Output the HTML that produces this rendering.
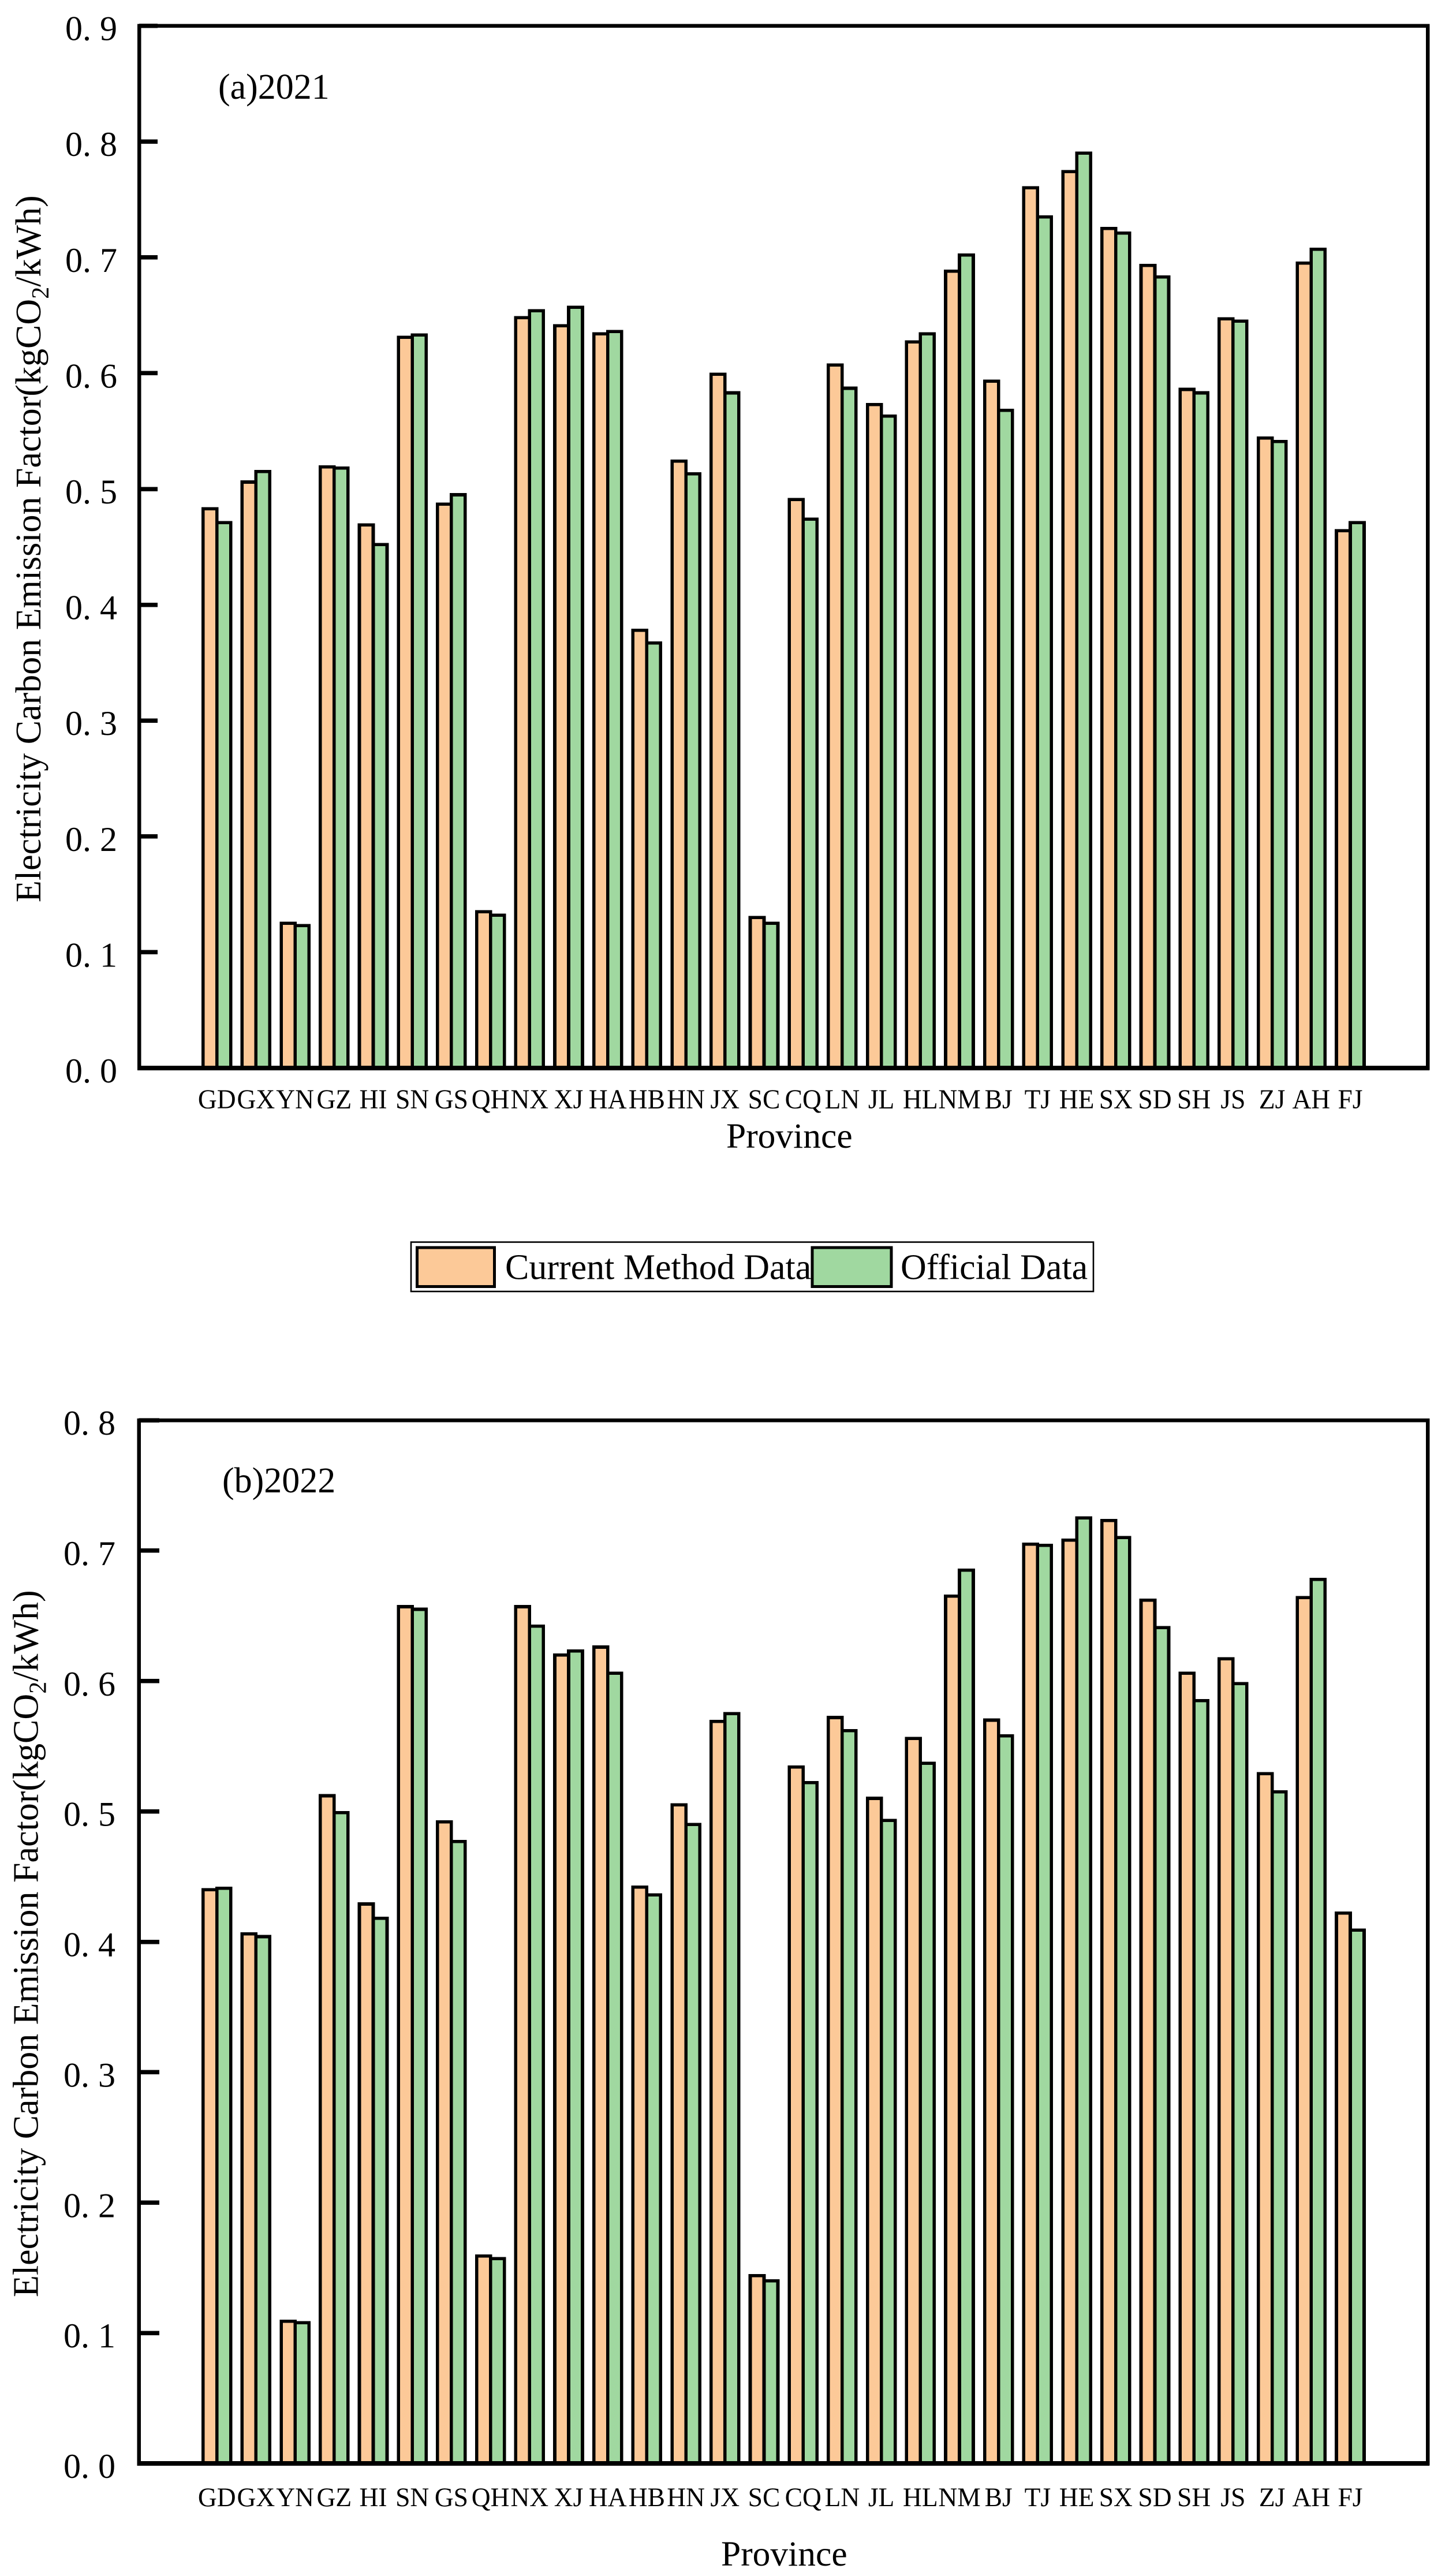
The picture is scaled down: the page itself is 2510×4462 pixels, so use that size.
<!DOCTYPE html>
<html lang="en">
<head>
<meta charset="utf-8">
<title>Electricity Carbon Emission Factor by Province</title>
<style>
html,body{margin:0;padding:0;background:#fff;}
svg{display:block;}
text{font-family:"Liberation Serif","Times New Roman",serif;fill:#000;}
</style>
</head>
<body>
<svg id="figure" xmlns="http://www.w3.org/2000/svg" width="2510" height="4462" viewBox="0 0 2510 4462">
  <rect x="0" y="0" width="2510" height="4462" fill="#ffffff"/>
  <g>
    <rect x="712" y="2151.5" width="1182" height="85.5" fill="#fff" stroke="#000" stroke-width="2.6"/>
    <rect x="722.5" y="2161" width="134" height="67.5" fill="#FCC998" stroke="#000" stroke-width="5" shape-rendering="crispEdges"/>
    <text x="875" y="2215.5" font-size="62">Current Method Data</text>
    <rect x="1407" y="2161" width="137" height="67.5" fill="#A0D8A0" stroke="#000" stroke-width="5" shape-rendering="crispEdges"/>
    <text x="1560" y="2215.5" font-size="62">Official Data</text>
  </g>
</svg>
<script>
const categories = ["GD","GX","YN","GZ","HI","SN","GS","QH","NX","XJ","HA","HB","HN","JX","SC","CQ","LN","JL","HL","NM","BJ","TJ","HE","SX","SD","SH","JS","ZJ","AH","FJ"];
const current2021 = [0.483,0.506,0.125,0.519,0.469,0.631,0.487,0.135,0.648,0.641,0.634,0.378,0.524,0.599,0.130,0.491,0.607,0.573,0.627,0.688,0.593,0.760,0.774,0.725,0.693,0.586,0.647,0.544,0.695,0.464];
const official2021 = [0.471,0.515,0.123,0.518,0.452,0.633,0.495,0.132,0.654,0.657,0.636,0.367,0.513,0.583,0.125,0.474,0.587,0.563,0.634,0.702,0.568,0.735,0.790,0.721,0.683,0.583,0.645,0.541,0.707,0.471];
const current2022 = [0.440,0.406,0.109,0.512,0.429,0.657,0.492,0.159,0.657,0.620,0.626,0.442,0.505,0.569,0.144,0.534,0.572,0.510,0.556,0.665,0.570,0.705,0.708,0.723,0.662,0.606,0.617,0.529,0.664,0.422];
const official2022 = [0.441,0.404,0.108,0.499,0.418,0.655,0.477,0.157,0.642,0.623,0.606,0.436,0.490,0.575,0.140,0.522,0.562,0.493,0.537,0.685,0.558,0.704,0.725,0.710,0.641,0.585,0.598,0.515,0.678,0.409];
const yTicks2021 = [0.0,0.1,0.2,0.3,0.4,0.5,0.6,0.7,0.8,0.9];
const yTicks2022 = [0.0,0.1,0.2,0.3,0.4,0.5,0.6,0.7,0.8];

const SVG_NS = 'http://www.w3.org/2000/svg';
const figure = document.getElementById('figure');

function make(tag, attrs, parent, text) {
  const node = document.createElementNS(SVG_NS, tag);
  for (const k in attrs) node.setAttribute(k, attrs[k]);
  if (text !== undefined) node.textContent = text;
  parent.appendChild(node);
  return node;
}

function drawPanel(p) {
  const g = make('g', {}, figure);
  
  

  const yScale = v => p.bottom - (v / p.yMax) * (p.bottom - p.top);
  const xBand = i => 375.7 + 67.7 * i;
  const barW = 24;

  categories.forEach((cat, i) => {
    const a = make('rect', {
      x: xBand(i) - barW, y: yScale(p.current[i]), width: barW,
      height: p.bottom - yScale(p.current[i]),
      fill: '#FCC998', stroke: '#000', 'stroke-width': 5.6, 'shape-rendering': 'crispEdges'
    }, g);
    
    

    const b = make('rect', {
      x: xBand(i), y: yScale(p.official[i]), width: barW,
      height: p.bottom - yScale(p.official[i]),
      fill: '#A0D8A0', stroke: '#000', 'stroke-width': 5.6, 'shape-rendering': 'crispEdges'
    }, g);
    
    

    const lbl = make('text', {
      transform: 'translate(' + xBand(i) + ',' + p.catBaseline + ') scale(1,' + p.catStretch + ')',
      'font-size': 45.5, 'text-anchor': 'middle'
    }, g, cat);
    
    
  });

  const frame = make('rect', {
    x: p.left, y: p.top, width: p.right - p.left, height: p.bottom - p.top,
    fill: 'none', stroke: '#000', 'stroke-width': 6.5, 'shape-rendering': 'crispEdges'
  }, g);
  
  

  const base = make('line', {
    x1: p.left - 3, x2: p.right + 3, y1: p.bottom, y2: p.bottom,
    stroke: '#000', 'stroke-width': 8, 'shape-rendering': 'crispEdges'
  }, g);
  
  

  p.ticks.forEach(v => {
    const t = make('line', {
      x1: p.left, x2: p.tickEnd, y1: yScale(v), y2: yScale(v),
      stroke: '#000', 'stroke-width': 7.5, 'shape-rendering': 'crispEdges'
    }, g);
    
    

    const l = make('text', {
      x: p.tickLabelX, y: yScale(v) + 25, 'font-size': 60
    }, g, v.toFixed(1).replace('.', '. '));
    
    
  });

  const tag = make('text', {
    x: p.tagX, y: p.tagY, 'font-size': 62
  }, g, p.tag);
  
  

  const xTitle = make('text', {
    x: p.xTitleX, y: p.xTitleY, 'font-size': 61.5
  }, g, 'Province');
  
  

  const yTitle = make('text', {
    transform: 'translate(' + p.yTitleX + ',' + p.yTitleBottom + ') rotate(-90)',
    'font-size': 62
  }, g);
  
  
  make('tspan', {}, yTitle, 'Electricity Carbon Emission Factor(kgCO');
  make('tspan', { dy: 14, 'font-size': 42 }, yTitle, '2');
  make('tspan', { dy: -14 }, yTitle, '/kWh)');
}

drawPanel({
  key: '2021', tag: '(a)2021', current: current2021, official: official2021, ticks: yTicks2021, yMax: 0.9,
  left: 241, right: 2473, top: 44.6, bottom: 1850, tickEnd: 273, tickLabelX: 113,
  catBaseline: 1920, catStretch: 1.05, tagX: 378, tagY: 171, xTitleX: 1258, xTitleY: 1988, yTitleX: 70, yTitleBottom: 1563
});

drawPanel({
  key: '2022', tag: '(b)2022', current: current2022, official: official2022, ticks: yTicks2022, yMax: 0.8,
  left: 240.5, right: 2473, top: 2460, bottom: 4267, tickEnd: 276, tickLabelX: 110,
  catBaseline: 4341, catStretch: 1.02, tagX: 385, tagY: 2585, xTitleX: 1249, xTitleY: 4444, yTitleX: 65.5, yTitleBottom: 3979
});
</script>
</body>
</html>
